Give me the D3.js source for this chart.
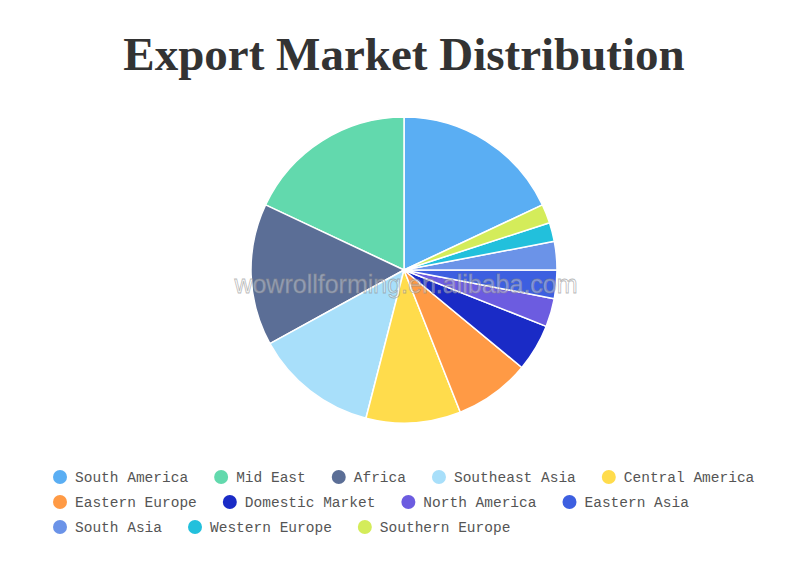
<!DOCTYPE html>
<html>
<head>
<meta charset="utf-8">
<script src="https://cdn.jsdelivr.net/npm/d3@7"></script>
<style>
  body { margin: 0; background: #fff; }
  svg { display: block; }
</style>
</head>
<body>
<svg id="chart" width="811" height="572"></svg>
<script>
// data (percent share)
var markets = ["South America", "Mid East", "Africa", "Southeast Asia", "Central America",
               "Eastern Europe", "Domestic Market", "North America", "Eastern Asia",
               "South Asia", "Western Europe", "Southern Europe"];
var shares = [18, 18, 15, 13, 10, 8, 5, 3, 3, 3, 2, 2];
var colors = ["#5aaef3", "#62d9ad", "#5b6e96", "#a8dffa", "#ffdc4c", "#ff9a45",
              "#1a2bc6", "#6c5ce0", "#3d5fe0", "#6b93e8", "#22c0dc", "#d4ec5a"];

var svg = d3.select("#chart");
var width = 811, height = 572;
var cx = 404, cy = 270, radius = 153;

var data = markets.map(function(m, i) { return {name: m, value: shares[i]}; });

var color = d3.scaleOrdinal()
    .domain(markets)
    .range(colors);

// title
svg.append("text")
    .attr("x", 404)
    .attr("y", 70)
    .attr("text-anchor", "middle")
    .style("font-family", "'Liberation Serif', 'DejaVu Serif', serif")
    .style("font-weight", "bold")
    .style("font-size", "47px")
    .style("fill", "#333")
    .text("Export Market Distribution");

// pie goes counterclockwise, first slice ends at 12 o'clock
var total = d3.sum(shares);
var start = 2 * Math.PI * shares[0] / total;
var pie = d3.pie()
    .sort(null)
    .value(function(d) { return d.value; })
    .startAngle(start)
    .endAngle(start - 2 * Math.PI);

var arc = d3.arc()
    .innerRadius(0)
    .outerRadius(radius);

var g = svg.append("g")
    .attr("transform", "translate(" + cx + "," + cy + ")");

g.selectAll("path")
    .data(pie(data))
    .enter().append("path")
    .attr("d", arc)
    .attr("fill", function(d) { return color(d.data.name); })
    .attr("stroke", "#fff")
    .attr("stroke-width", 1.5)
    .attr("stroke-linejoin", "round");

// watermark
svg.append("text")
    .attr("x", cx + 2)
    .attr("y", cy + 23)
    .attr("text-anchor", "middle")
    .style("font-family", "'Liberation Sans', Arial, sans-serif")
    .style("font-size", "25px")
    .style("fill", "#ffffff")
    .style("fill-opacity", 0.35)
    .style("stroke", "#888")
    .style("stroke-opacity", 0.6)
    .style("stroke-width", 0.8)
    .text("wowrollforming.en.alibaba.com");

// legend, flow layout with wrapping
var legend = svg.append("g");
var lx0 = 53, lxMax = 770, ly = 477, rowH = 25;
var lx = lx0;
data.forEach(function(d) {
    var item = legend.append("g");
    item.append("circle")
        .attr("cx", 7)
        .attr("cy", 0)
        .attr("r", 7)
        .attr("fill", color(d.name));
    var t = item.append("text")
        .attr("x", 22)
        .attr("y", 5)
        .style("font-family", "'Liberation Mono', 'DejaVu Sans Mono', monospace")
        .style("font-size", "14.5px")
        .style("fill", "#555")
        .text(d.name);
    var w = 22 + t.node().getComputedTextLength();
    if (lx + w > lxMax && lx > lx0) {
        lx = lx0;
        ly += rowH;
    }
    item.attr("transform", "translate(" + lx + "," + ly + ")");
    lx += w + 26;
});
</script>
</body>
</html>
